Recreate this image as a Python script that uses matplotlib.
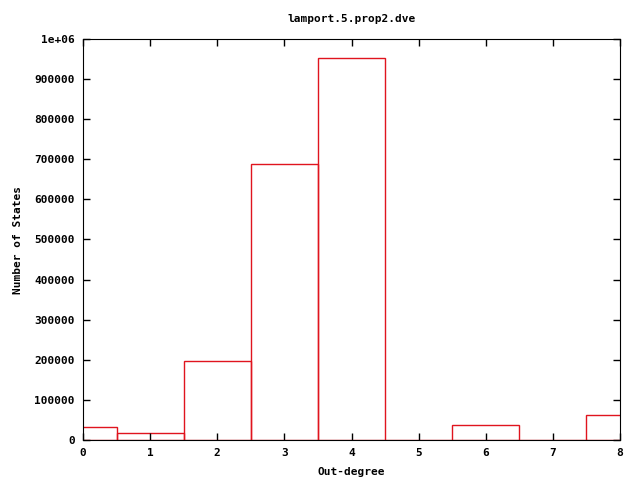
import matplotlib
matplotlib.use('Agg')
import matplotlib.pyplot as plt
import numpy as np

# out-degree histogram values
degrees = [0, 1, 2, 3, 4, 5, 6, 7, 8]
states = [31600, 16700, 196500, 688000, 952500, 0, 37300, 0, 62000]

plt.rcParams['font.family'] = 'DejaVu Sans Mono'
plt.rcParams['font.size'] = 8
plt.rcParams['font.weight'] = 'bold'

fig = plt.figure(figsize=(6.4, 4.8), dpi=100)
ax = fig.add_axes([83/640, 40/480, 537/640, 401/480])

ax.bar(degrees, states, width=1.0, fill=False, edgecolor='#e0141e', linewidth=1.0)

ax.set_xlim(0, 8)
ax.set_ylim(0, 1e6)
ax.set_xticks(range(0, 9))
ax.set_yticks(np.arange(0, 1000001, 100000))
ax.set_yticklabels([str(v) for v in range(0, 1000000, 100000)] + ['1e+06'])
ax.tick_params(direction='in', top=True, right=True, length=5, width=1, pad=6)

ax.set_title('lamport.5.prop2.dve', fontsize=8, fontweight='bold', pad=12)
ax.set_xlabel('Out-degree', fontweight='bold', labelpad=6)
ax.set_ylabel('Number of States', fontweight='bold', labelpad=8)

plt.savefig('out.png', dpi=100)
